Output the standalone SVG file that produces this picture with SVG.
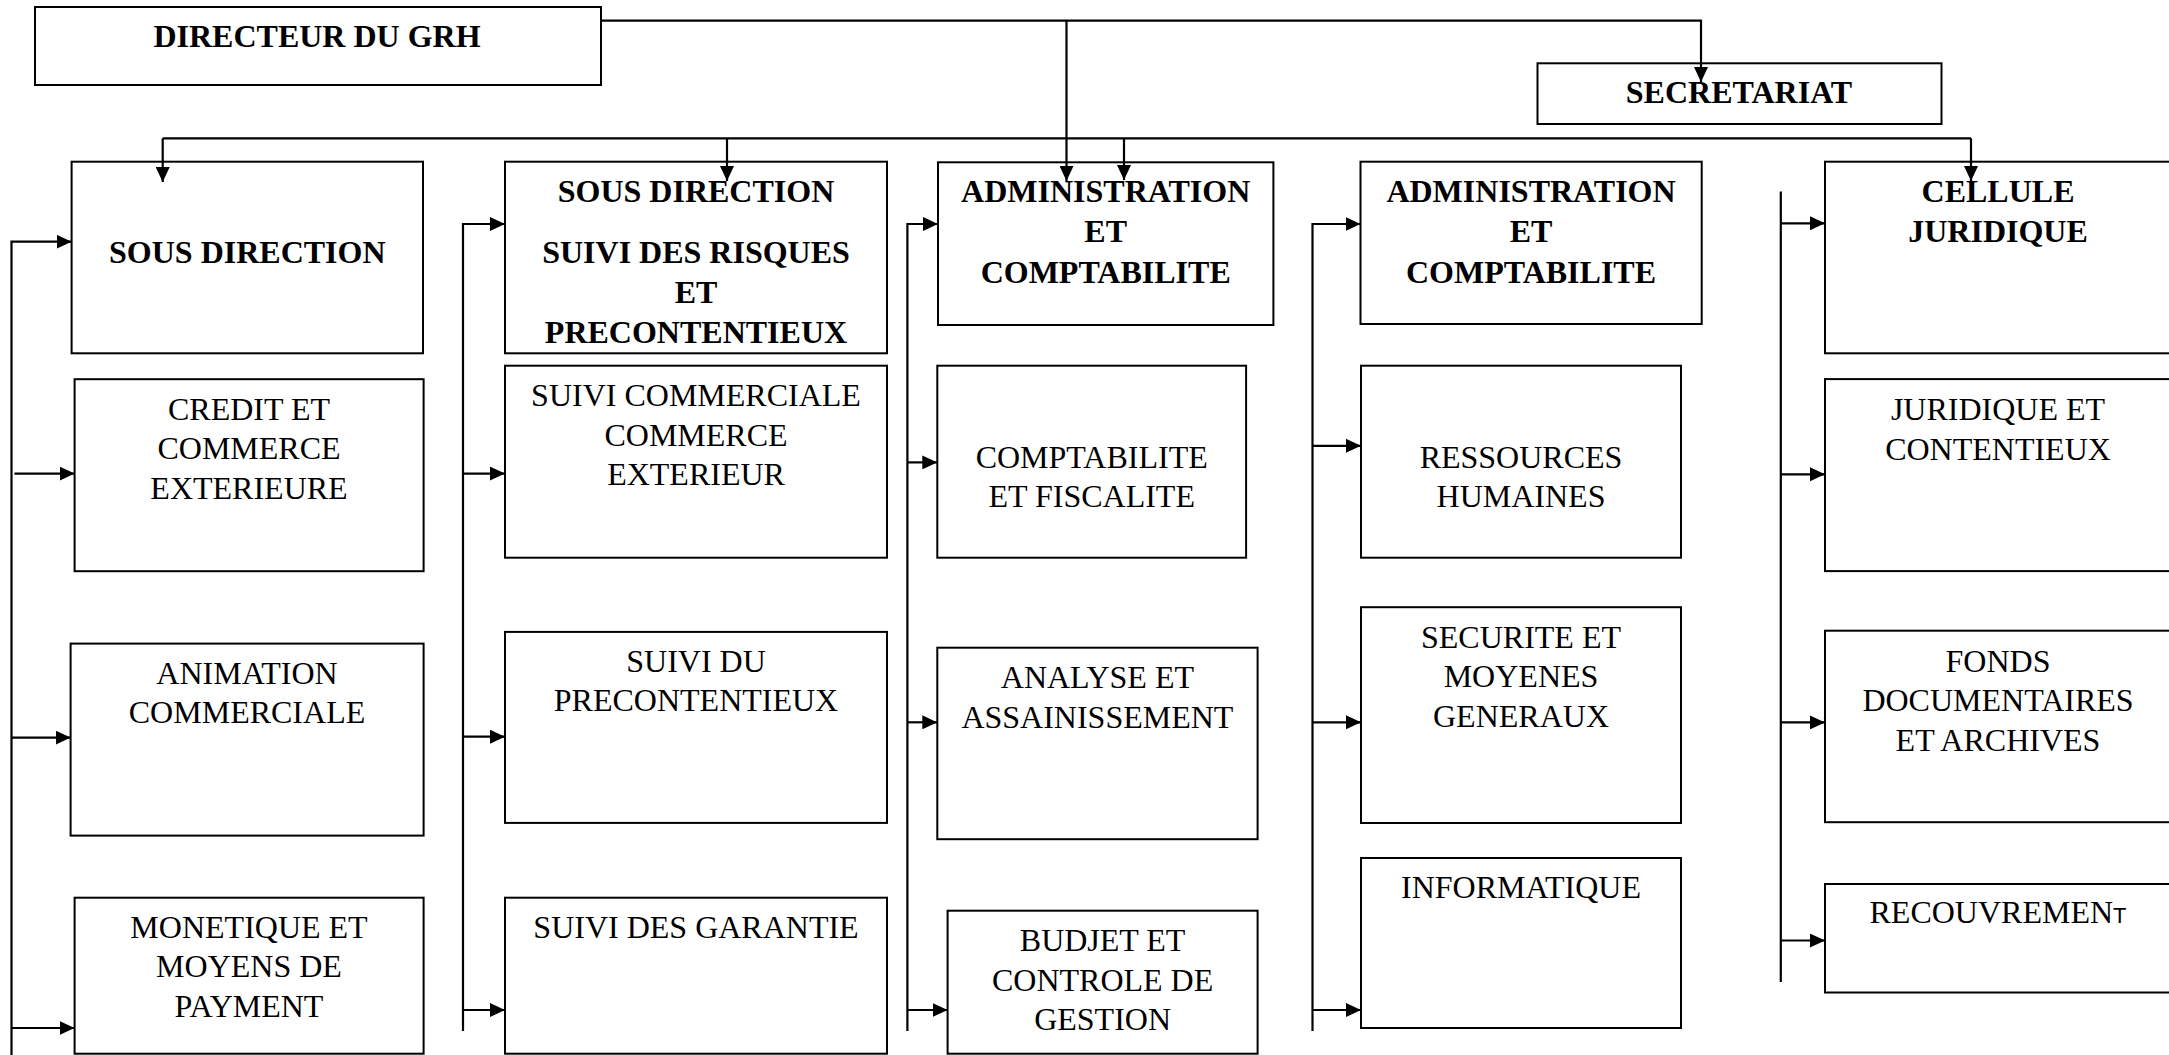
<svg xmlns="http://www.w3.org/2000/svg" width="2169" height="1055" viewBox="0 0 2169 1055">
<defs>
<marker id="ah" markerUnits="userSpaceOnUse" markerWidth="15" markerHeight="14" refX="15" refY="7" orient="auto">
<path d="M0,0 L15,7 L0,14 z" fill="#000"/>
</marker>
<style>
.box{fill:#fff;stroke:#000;stroke-width:2}
.b{font-family:"Liberation Serif","Times New Roman",serif;font-weight:bold;font-size:32px;text-anchor:middle;fill:#000}
.r{font-family:"Liberation Serif","Times New Roman",serif;font-size:32px;text-anchor:middle;fill:#000}
.c{fill:none;stroke:#000;stroke-width:2.2}
.a{fill:none;stroke:#000;stroke-width:2.2;marker-end:url(#ah)}
</style>
</defs>
<rect width="2169" height="1055" fill="#fff"/>

<g id="directeur"><rect class="box" x="35" y="7" width="566" height="78"/><text class="b" x="317" y="47">DIRECTEUR DU GRH</text></g>
<g id="secretariat"><rect class="box" x="1537.5" y="63.3" width="404" height="60.7"/><text class="b" x="1739" y="103.3">SECRETARIAT</text></g>

<g id="sd1"><rect class="box" x="71.6" y="161.7" width="351.4" height="191.6"/><text class="b" x="247.3" y="263.3">SOUS DIRECTION</text></g>
<g id="sd2"><rect class="box" x="505" y="161.7" width="382" height="191.6"/>
<text class="b" x="696" y="201.7">SOUS DIRECTION</text><text class="b" x="696" y="263.3">SUIVI DES RISQUES</text><text class="b" x="696" y="303.3">ET</text><text class="b" x="696" y="342.7">PRECONTENTIEUX</text></g>
<g id="adm1"><rect class="box" x="938" y="162.3" width="335.4" height="162.7"/>
<text class="b" x="1105.7" y="201.7">ADMINISTRATION</text><text class="b" x="1105.7" y="241.7">ET</text><text class="b" x="1105.7" y="282.7">COMPTABILITE</text></g>
<g id="adm2"><rect class="box" x="1360.5" y="161.7" width="341.2" height="162.3"/>
<text class="b" x="1531" y="201.7">ADMINISTRATION</text><text class="b" x="1531" y="241.7">ET</text><text class="b" x="1531" y="282.7">COMPTABILITE</text></g>
<g id="cellule"><rect class="box" x="1825" y="161.7" width="346" height="191.6"/>
<text class="b" x="1998" y="202">CELLULE</text><text class="b" x="1998" y="242">JURIDIQUE</text></g>

<g id="credit"><rect class="box" x="74.6" y="379.2" width="349" height="192"/>
<text class="r" x="249" y="419.7">CREDIT ET</text><text class="r" x="249" y="459.3">COMMERCE</text><text class="r" x="249" y="498.6">EXTERIEURE</text></g>
<g id="animation"><rect class="box" x="70.6" y="643.6" width="353" height="192"/>
<text class="r" x="247" y="683.6">ANIMATION</text><text class="r" x="247" y="723.2">COMMERCIALE</text></g>
<g id="monetique"><rect class="box" x="74.6" y="897.7" width="349" height="156"/>
<text class="r" x="249" y="938">MONETIQUE ET</text><text class="r" x="249" y="977.2">MOYENS DE</text><text class="r" x="249" y="1016.8">PAYMENT</text></g>

<g id="suivicomm"><rect class="box" x="505" y="365.7" width="382" height="192"/>
<text class="r" x="696" y="406.2">SUIVI COMMERCIALE</text><text class="r" x="696" y="445.8">COMMERCE</text><text class="r" x="696" y="484.9">EXTERIEUR</text></g>
<g id="suividu"><rect class="box" x="505" y="631.9" width="382" height="191"/>
<text class="r" x="696" y="671.5">SUIVI DU</text><text class="r" x="696" y="711">PRECONTENTIEUX</text></g>
<g id="garantie"><rect class="box" x="505" y="897.7" width="382" height="156"/>
<text class="r" x="696" y="938">SUIVI DES GARANTIE</text></g>

<g id="compta"><rect class="box" x="937.3" y="365.7" width="308.8" height="192"/>
<text class="r" x="1091.7" y="467.8">COMPTABILITE</text><text class="r" x="1091.7" y="506.5">ET FISCALITE</text></g>
<g id="analyse"><rect class="box" x="937.3" y="647.7" width="320.3" height="191.5"/>
<text class="r" x="1097.4" y="688.1">ANALYSE ET</text><text class="r" x="1097.4" y="727.7">ASSAINISSEMENT</text></g>
<g id="budjet"><rect class="box" x="947.6" y="910.7" width="310" height="143"/>
<text class="r" x="1102.6" y="951.2">BUDJET ET</text><text class="r" x="1102.6" y="990.7">CONTROLE DE</text><text class="r" x="1102.6" y="1029.9">GESTION</text></g>

<g id="ressources"><rect class="box" x="1361" y="365.7" width="320" height="192"/>
<text class="r" x="1521" y="467.8">RESSOURCES</text><text class="r" x="1521" y="506.5">HUMAINES</text></g>
<g id="securite"><rect class="box" x="1361" y="607.2" width="320" height="215.8"/>
<text class="r" x="1521" y="647.7">SECURITE ET</text><text class="r" x="1521" y="687.2">MOYENES</text><text class="r" x="1521" y="726.8">GENERAUX</text></g>
<g id="informatique"><rect class="box" x="1361" y="858" width="320" height="170"/>
<text class="r" x="1521" y="897.7">INFORMATIQUE</text></g>

<g id="juridique"><rect class="box" x="1825" y="379.1" width="346" height="192"/>
<text class="r" x="1998" y="420">JURIDIQUE ET</text><text class="r" x="1998" y="460">CONTENTIEUX</text></g>
<g id="fonds"><rect class="box" x="1825" y="630.7" width="346" height="191.5"/>
<text class="r" x="1998" y="672.2">FONDS</text><text class="r" x="1998" y="711">DOCUMENTAIRES</text><text class="r" x="1998" y="751.3">ET ARCHIVES</text></g>
<g id="recouvrement"><rect class="box" x="1825" y="884" width="346" height="108.5"/>
<text class="r" x="1998" y="923.3">RECOUVREMEN<tspan style="font-family:'Liberation Sans',Arial,sans-serif;font-size:22px">T</tspan></text></g>

<g id="connectors">
<polyline class="a" points="601,20.7 1701,20.7 1701,82"/>
<line class="a" x1="1066.5" y1="20.7" x2="1066.5" y2="181"/>
<line class="c" x1="162.7" y1="138.3" x2="1971" y2="138.3"/>
<line class="a" x1="162.7" y1="138.3" x2="162.7" y2="182"/>
<line class="a" x1="727" y1="138.3" x2="727" y2="181"/>
<line class="a" x1="1124" y1="138.3" x2="1124" y2="180"/>
<line class="a" x1="1971" y1="138.3" x2="1971" y2="181"/>

<polyline class="a" points="11.5,1055 11.5,241.7 71.6,241.7"/>
<line class="a" x1="14.4" y1="473.6" x2="74.6" y2="473.6"/>
<line class="a" x1="11.5" y1="737.6" x2="70.6" y2="737.6"/>
<line class="a" x1="11.5" y1="1028" x2="74.6" y2="1028"/>

<polyline class="a" points="463,1031 463,224 505,224"/>
<line class="a" x1="463" y1="473.6" x2="505" y2="473.6"/>
<line class="a" x1="463" y1="736.7" x2="505" y2="736.7"/>
<line class="a" x1="463" y1="1010" x2="505" y2="1010"/>

<polyline class="a" points="907.4,1031 907.4,224 938,224"/>
<line class="a" x1="907.4" y1="462.4" x2="937.3" y2="462.4"/>
<line class="a" x1="907.4" y1="722.3" x2="937.3" y2="722.3"/>
<line class="a" x1="907.4" y1="1010" x2="947.6" y2="1010"/>

<polyline class="a" points="1312.5,1031 1312.5,224 1360.5,224"/>
<line class="a" x1="1312.5" y1="445.8" x2="1361" y2="445.8"/>
<line class="a" x1="1312.5" y1="722.3" x2="1361" y2="722.3"/>
<line class="a" x1="1312.5" y1="1010" x2="1361" y2="1010"/>

<line class="c" x1="1780.8" y1="191.5" x2="1780.8" y2="982"/>
<line class="a" x1="1780.8" y1="223.3" x2="1825" y2="223.3"/>
<line class="a" x1="1780.8" y1="474.3" x2="1825" y2="474.3"/>
<line class="a" x1="1780.8" y1="722.4" x2="1825" y2="722.4"/>
<line class="a" x1="1780.8" y1="940.5" x2="1825" y2="940.5"/>
</g>
</svg>
